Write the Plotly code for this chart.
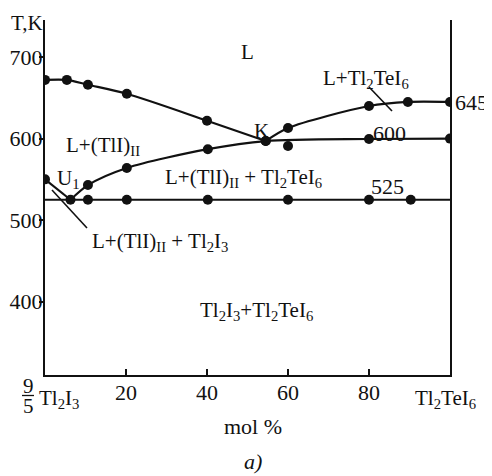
import plotly.graph_objects as go

# ---- data (mol % Tl2TeI6, temperature K) ----
liq_tli_x = [0, 5.4, 10.6, 20.2, 40.0, 54.5]
liq_tli_T = [672, 672, 666, 655, 622, 597]

u1_x = [0, 6.3]
u1_T = [550, 525]

mid_x = [6.3, 10.6, 20.2, 40.2, 54.5, 80, 100]
mid_T = [525, 543, 564, 587, 597, 599.5, 600]
mid_mark_x = [10.6, 20.2, 40.2, 80, 100]
mid_mark_T = [543, 564, 587, 599.5, 600]

liq_te_x = [54.5, 60, 80, 89.6, 100]
liq_te_T = [597, 613, 640, 645, 645]

sol_x = [0, 100]
sol_T = [525, 525]
sol_mark_x = [10.6, 20.2, 40.2, 60, 80, 90.3]
sol_mark_T = [525, 525, 525, 525, 525, 525]

extra_x = [60]
extra_T = [591]

y_ticks = [400, 500, 600, 700]
x_ticks = [20, 40, 60, 80]
x_tick_labels = ["20", "40", "60", "80"]

# ---- layout geometry (page body has an 8 px margin) ----
OFF = 8
W, H = 492 - OFF, 476 - OFF
ML, MT = 45 - OFF, 20 - OFF
PW, PH = 405, 355
MR = W - ML - PW
MB = H - MT - PH
XR = [0, 100]
YR = [310, 745.5]
FONT = "Liberation Serif"
INK = "#111111"


def p(xp, yp):
    """reference-pixel -> paper coordinates (for text placement only)"""
    return (xp - OFF - ML) / PW, 1 - (yp - OFF - MT) / PH


fig = go.Figure()
line = dict(color=INK, width=2.2)
mk = dict(color=INK, size=10)

fig.add_trace(go.Scatter(x=liq_tli_x, y=liq_tli_T, mode="lines+markers",
                         line=dict(**line, shape="spline", smoothing=0.8), marker=mk))
fig.add_trace(go.Scatter(x=u1_x, y=u1_T, mode="lines+markers", line=line, marker=mk))
fig.add_trace(go.Scatter(x=mid_x, y=mid_T, mode="lines",
                         line=dict(**line, shape="spline", smoothing=0.8)))
fig.add_trace(go.Scatter(x=mid_mark_x, y=mid_mark_T, mode="markers", marker=mk))
fig.add_trace(go.Scatter(x=liq_te_x, y=liq_te_T, mode="lines+markers",
                         line=dict(**line, shape="spline", smoothing=0.8), marker=mk))
fig.add_trace(go.Scatter(x=sol_x, y=sol_T, mode="lines", line=line))
fig.add_trace(go.Scatter(x=sol_mark_x, y=sol_mark_T, mode="markers", marker=mk))
fig.add_trace(go.Scatter(x=extra_x, y=extra_T, mode="markers", marker=mk))

ann = []


def text(t, xp, yp, size=21):
    x, y = p(xp, yp)
    ann.append(dict(x=x, y=y, xref="paper", yref="paper", text=t, showarrow=False,
                    font=dict(family=FONT, size=size, color=INK),
                    xanchor="center", yanchor="middle"))


text("T,K", 27, 23, 21)
text("L", 247, 52)
text("L+Tl<sub>2</sub>TeI<sub>6</sub>", 366, 79)
text("645", 471, 102, 22)
text("K", 262, 131)
text("600", 389, 133, 22)
text("525", 387, 186, 22)
text("L+(TlI)<sub>II</sub>", 103, 146)
text("U<sub>1</sub>", 68, 179)
text("L+(TlI)<sub>II</sub> + Tl<sub>2</sub>TeI<sub>6</sub>", 243, 178)
text("L+(TlI)<sub>II</sub> + Tl<sub>2</sub>I<sub>3</sub>", 160, 242)
text("Tl<sub>2</sub>I<sub>3</sub>+Tl<sub>2</sub>TeI<sub>6</sub>", 256, 311)
text("9", 28, 386, 21)
text("5", 28, 406, 21)
text("Tl<sub>2</sub>I<sub>3</sub>", 59, 399)
text("Tl<sub>2</sub>TeI<sub>6</sub>", 445, 399)
text("mol %", 253, 426, 22)
text("<i>a)</i>", 253, 462, 22)

shapes = []


def seg(x0p, y0p, x1p, y1p, w=1.6):
    x0, y0 = p(x0p, y0p)
    x1, y1 = p(x1p, y1p)
    shapes.append(dict(type="line", xref="paper", yref="paper", x0=x0, y0=y0, x1=x1, y1=y1,
                       line=dict(color=INK, width=w)))


seg(369, 87, 392, 111)   # leader to L+Tl2TeI6 field
seg(52, 190, 87, 228)    # leader to L+(TlI)II+Tl2I3 field
seg(22, 395.5, 34, 395.5, 1.3)  # fraction bar 9/5

fig.update_layout(
    width=W, height=H,
    margin=dict(l=ML, r=MR, t=MT, b=MB, autoexpand=False),
    paper_bgcolor="white", plot_bgcolor="white",
    showlegend=False,
    annotations=ann, shapes=shapes,
    font=dict(family=FONT, color=INK),
)
fig.update_xaxes(range=XR, showgrid=False, zeroline=False, automargin=False,
                 showline=True, linecolor=INK, linewidth=2,
                 tickvals=x_ticks, ticktext=x_tick_labels,
                 ticks="inside", ticklen=6, tickwidth=2, tickcolor=INK,
                 ticklabelstandoff=-3,
                 tickfont=dict(family=FONT, size=22, color=INK))
fig.update_yaxes(range=YR, showgrid=False, zeroline=False, automargin=False,
                 showline=True, linecolor=INK, linewidth=2, mirror=True,
                 tickvals=y_ticks,
                 ticks="outside", ticklen=4, tickwidth=2, tickcolor=INK,
                 ticklabelstandoff=-8,
                 tickfont=dict(family=FONT, size=22, color=INK))

fig.write_html("out.html")
